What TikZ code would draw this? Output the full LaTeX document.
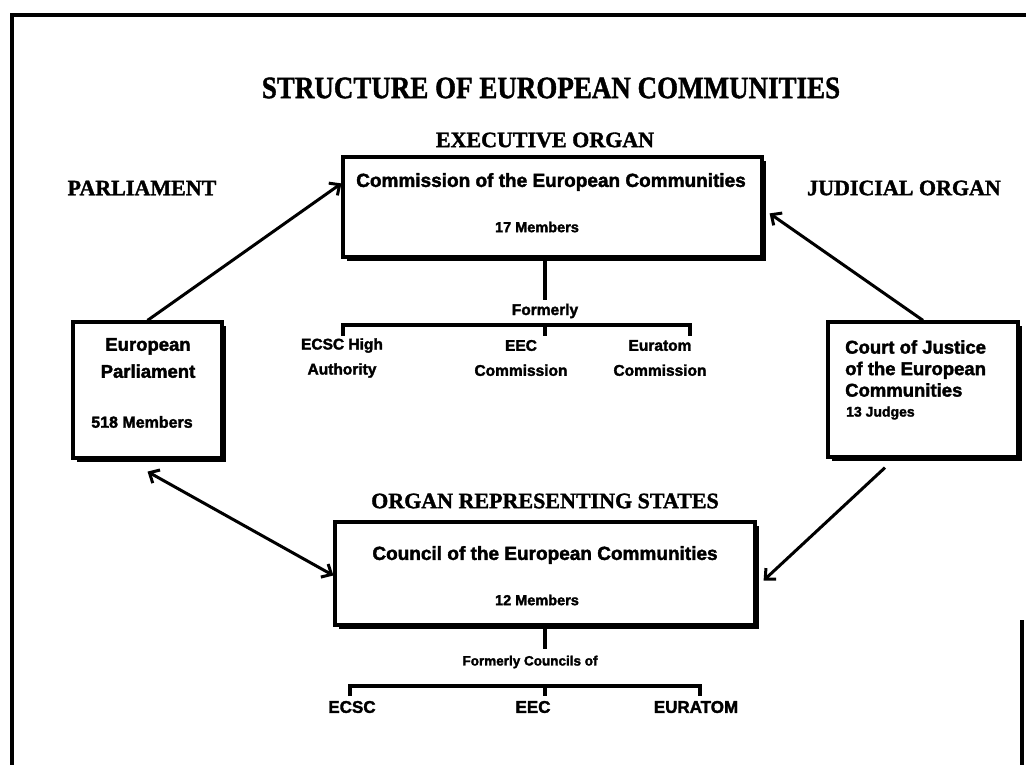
\documentclass[tikz,border=0pt]{standalone}
\usepackage{fontspec}
\setmainfont{Liberation Serif}[BoldFeatures={FakeBold=1.5}]
\setsansfont{Liberation Sans}[BoldFeatures={FakeBold=2}]
\usetikzlibrary{arrows.meta,shadows}
\begin{document}
\begin{tikzpicture}[x=1pt,y=-1pt,
  box/.style={draw, line width=3.2pt, fill=white, inner sep=0pt,
    drop shadow={shadow xshift=4pt, shadow yshift=-4pt, fill=black, opacity=1}},
  head/.style={font=\rmfamily\bfseries\fontsize{22}{24}\selectfont, inner sep=0pt},
  btxt/.style={font=\sffamily\bfseries\fontsize{19}{22}\selectfont, inner sep=0pt, align=center},
  mtxt/.style={font=\sffamily\bfseries\fontsize{14.5}{16}\selectfont, inner sep=0pt},
  stxt/.style={font=\sffamily\bfseries\fontsize{15.5}{25}\selectfont, inner sep=0pt, align=center},
  ltxt/.style={font=\sffamily\bfseries\fontsize{17}{20}\selectfont, inner sep=0pt},
  conn/.style={line width=3pt},
  tip/.tip={Straight Barb[length=8pt,width=15pt]},
  rule/.style={line width=3.4pt}
]
\useasboundingbox (0,0) rectangle (1026,765);
\fill[white] (0,0) rectangle (1026,765);
% frame
\coordinate (f1) at (12,765); \coordinate (f2) at (12,15); \coordinate (f3) at (1026,15);
\draw[line width=3.5pt] (f1) -- (f2) -- (f3);
\coordinate (f4) at (1022,620); \coordinate (f5) at (1022,765);
\draw[line width=3.5pt] (f4) -- (f5);

% headings
\node[head, font=\rmfamily\bfseries\fontsize{27}{30}\selectfont] (title) at (551,88) {\scalebox{1}[1.15]{STRUCTURE OF EUROPEAN COMMUNITIES}};
\node[head] (exec) at (545,140) {EXECUTIVE ORGAN};
\node[head] (parl) at (142,188) {PARLIAMENT};
\node[head] (jud) at (904,188) {JUDICIAL ORGAN};
\node[head] (ors) at (545,501) {ORGAN REPRESENTING STATES};

% boxes
\node[box, minimum width=419pt, minimum height=100pt] (comm) at (552.5,207) {};
\node[box, minimum width=420pt, minimum height=103pt] (council) at (545,573.5) {};
\node[box, minimum width=149pt, minimum height=136pt] (ep) at (147.5,390) {};
\node[box, minimum width=190pt, minimum height=135pt] (court) at (923,389.5) {};

% box texts
\node[btxt] (commt) at (551,182) {Commission of the European Communities};
\node[mtxt] (commm) at (537,227) {17 Members};
\node[btxt] (councilt) at (545,555) {Council of the European Communities};
\node[mtxt] (councilm) at (537,600) {12 Members};
\node[btxt, font=\sffamily\bfseries\fontsize{18.5}{27}\selectfont] (ept) at (148,358) {European\\Parliament};
\node[mtxt, font=\sffamily\bfseries\fontsize{16}{18}\selectfont] (epm) at (142,422) {518 Members};
\node[btxt, font=\sffamily\bfseries\fontsize{18.5}{21.5}\selectfont, align=left, anchor=north west] (courtt) at (845,340) {Court of Justice\\of the European\\Communities};
\node[mtxt, font=\sffamily\bfseries\fontsize{14}{16}\selectfont, anchor=west] (courtm) at (846,413) {13 Judges};

% connectors
\draw[conn, -tip] (ep.north) -- ([yshift=-28pt]comm.north west);
\draw[conn, -tip] (court.north) -- ([xshift=6pt,yshift=-58pt]comm.north east);
\draw[conn, tip-tip] ([yshift=-12pt]ep.south) -- ([yshift=-2pt]council.west);
\draw[conn, -tip] ([xshift=-38pt,yshift=-9pt]court.south) -- ([xshift=7pt,yshift=-7pt]council.east);

% upper "Formerly" tree
\coordinate (cv) at (545,300);
\draw[rule] (comm.south -| cv) -- (cv);
\node[stxt] (form) at (545,311) {Formerly};
\coordinate (bl) at (343,325); \coordinate (bm) at (545,325); \coordinate (br) at (690,325);
\draw[rule] ([yshift=-11pt]bl) -- (bl) -- (br) -- ([yshift=-11pt]br);
\draw[rule] (bm) -- ([yshift=-11pt]bm);
\node[stxt] (ecsc1) at (342,358) {ECSC High\\Authority};
\node[stxt] (eec1) at (521,358) {EEC\\Commission};
\node[stxt] (eur1) at (660,358) {Euratom\\Commission};

% lower "Formerly Councils of" tree
\coordinate (lv) at (545,649);
\draw[rule] (council.south -| lv) -- (lv);
\node[stxt, font=\sffamily\bfseries\fontsize{13.5}{15}\selectfont] (fcouncil) at (530,662) {Formerly Councils of};
\coordinate (ll) at (350,686); \coordinate (lm) at (545,686); \coordinate (lr) at (700,686);
\draw[rule] ([yshift=-10pt]ll) -- (ll) -- (lr) -- ([yshift=-10pt]lr);
\draw[rule] (lm) -- ([yshift=-10pt]lm);
\node[ltxt] (ecsc2) at (352,707) {ECSC};
\node[ltxt] (eec2) at (533,707) {EEC};
\node[ltxt] (eur2) at (696,707) {EURATOM};
\end{tikzpicture}
\end{document}
